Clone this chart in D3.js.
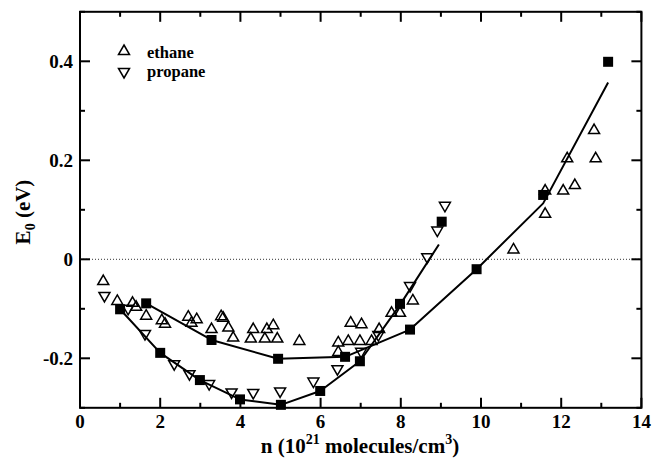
<!DOCTYPE html>
<html>
<head>
<meta charset="utf-8">
<script src="https://cdn.jsdelivr.net/npm/d3@7"></script>
<style>
  html, body { margin: 0; padding: 0; background: #fff; }
  svg { display: block; }
  text { font-family: "Liberation Serif", "Times New Roman", serif; font-weight: bold; fill: #000; }
</style>
</head>
<body>
<svg id="chart" width="652" height="461"></svg>
<script>
// Density n (10^21 molecules/cm^3) vs. E0 (eV)

// Individual ethane results (open up-triangles): [n, E0]
const ethanePoints = [
  [0.58, -0.042], [0.93, -0.082], [1.31, -0.086], [1.40, -0.094], [1.65, -0.112],
  [2.04, -0.121], [2.12, -0.128], [2.70, -0.114], [2.91, -0.119], [2.78, -0.126],
  [3.52, -0.113], [3.57, -0.116], [3.28, -0.139], [3.70, -0.136], [3.82, -0.156],
  [4.32, -0.139], [4.26, -0.158], [4.66, -0.139], [4.82, -0.131], [4.61, -0.158],
  [4.92, -0.158], [5.47, -0.163], [6.44, -0.166], [6.69, -0.163], [6.75, -0.126],
  [7.02, -0.129], [6.98, -0.163], [7.27, -0.163], [7.46, -0.139], [6.44, -0.185],
  [7.77, -0.106], [7.98, -0.106], [8.30, -0.081], [10.81, 0.022], [11.60, 0.094],
  [11.60, 0.141], [12.05, 0.141], [12.34, 0.152], [12.15, 0.206], [12.86, 0.206],
  [12.82, 0.263]
];

// Individual propane results (open down-triangles): [n, E0]
const propanePoints = [
  [0.61, -0.076], [1.20, -0.102], [1.62, -0.153], [2.35, -0.214], [2.73, -0.234],
  [3.22, -0.254], [3.78, -0.271], [4.32, -0.272], [4.99, -0.269], [5.82, -0.249],
  [6.42, -0.224], [7.01, -0.189], [7.44, -0.155], [8.23, -0.056], [8.66, 0.002],
  [8.91, 0.056], [9.10, 0.106]
];

// Averaged values (filled squares)
const ethaneAverages = [
  [1.65, -0.089], [3.28, -0.163], [4.94, -0.201], [6.61, -0.197],
  [8.23, -0.142], [9.89, -0.020], [11.55, 0.130], [13.17, 0.399]
];
const propaneAverages = [
  [1.00, -0.101], [2.00, -0.189], [2.99, -0.244], [3.99, -0.283], [5.01, -0.294],
  [5.99, -0.266], [6.98, -0.206], [7.98, -0.090], [9.02, 0.076]
];

// Fitted curves (solid lines)
const ethaneFit = [
  [1.65, -0.089], [3.28, -0.163], [4.94, -0.201], [6.61, -0.197],
  [8.23, -0.142], [9.89, -0.020], [11.55, 0.113], [13.17, 0.357]
];
const propaneFit = [
  [1.00, -0.101], [2.00, -0.189], [2.99, -0.244], [3.99, -0.283], [5.01, -0.294],
  [5.99, -0.266], [6.98, -0.206], [7.98, -0.092], [8.95, 0.030]
];

// Axis ticks
const xMajorTicks = [0, 2, 4, 6, 8, 10, 12, 14];
const xMinorTicks = [1, 3, 5, 7, 9, 11, 13];
const yMajorTicks = [-0.2, 0, 0.2, 0.4];
const yMinorTicks = [-0.3, -0.1, 0.1, 0.3, 0.5];
const yTickLabels = ["-0.2", "0", "0.2", "0.4"];

const legendItems = ["ethane", "propane"];

const svg = d3.select("#chart");
const W = 652, H = 461;
const margin = { left: 80, right: 10.6, top: 11.8, bottom: 53.2 };
const x = d3.scaleLinear().domain([0, 14]).range([margin.left, W - margin.right]);
const y = d3.scaleLinear().domain([-0.3, 0.5]).range([H - margin.bottom, margin.top]);

svg.append("rect").attr("width", W).attr("height", H).attr("fill", "#fff");

// zero reference line
svg.append("line")
  .attr("x1", x(0)).attr("x2", x(14))
  .attr("y1", y(0)).attr("y2", y(0))
  .attr("stroke", "#333").attr("stroke-width", 1)
  .attr("stroke-dasharray", "1,2");

// fitted curves
const line = d3.line().x(d => x(d[0])).y(d => y(d[1]));
[ethaneFit, propaneFit].forEach(fit => {
  svg.append("path").datum(fit)
    .attr("d", line)
    .attr("fill", "none").attr("stroke", "#000").attr("stroke-width", 2)
    .attr("stroke-linejoin", "round");
});

// triangle markers
const upTri = "M0,-5 L5.5,4.5 L-5.5,4.5 Z";
const downTri = "M0,5 L5.5,-4.5 L-5.5,-4.5 Z";

svg.append("g").selectAll("path").data(ethanePoints).join("path")
  .attr("d", upTri)
  .attr("transform", d => `translate(${x(d[0])},${y(d[1])})`)
  .attr("fill", "none").attr("stroke", "#000").attr("stroke-width", 1.5);

svg.append("g").selectAll("path").data(propanePoints).join("path")
  .attr("d", downTri)
  .attr("transform", d => `translate(${x(d[0])},${y(d[1])})`)
  .attr("fill", "none").attr("stroke", "#000").attr("stroke-width", 1.5);

// averaged squares
svg.append("g").selectAll("rect").data(ethaneAverages.concat(propaneAverages)).join("rect")
  .attr("x", d => x(d[0]) - 5).attr("y", d => y(d[1]) - 5)
  .attr("width", 10).attr("height", 10)
  .attr("fill", "#000");

// axes frame with inward ticks
const frame = svg.append("g");
frame.append("rect")
  .attr("x", x(0)).attr("y", y(0.5))
  .attr("width", x(14) - x(0)).attr("height", y(-0.3) - y(0.5))
  .attr("fill", "none").attr("stroke", "#000").attr("stroke-width", 2);

const tickG = frame.append("g").attr("stroke", "#000").attr("stroke-width", 2);
function xTick(v, len) {
  tickG.append("line").attr("x1", x(v)).attr("x2", x(v)).attr("y1", y(-0.3)).attr("y2", y(-0.3) - len);
  tickG.append("line").attr("x1", x(v)).attr("x2", x(v)).attr("y1", y(0.5)).attr("y2", y(0.5) + len);
}
function yTick(v, len) {
  tickG.append("line").attr("x1", x(0)).attr("x2", x(0) + len).attr("y1", y(v)).attr("y2", y(v));
  tickG.append("line").attr("x1", x(14)).attr("x2", x(14) - len).attr("y1", y(v)).attr("y2", y(v));
}
xMajorTicks.forEach(v => xTick(v, 10));
xMinorTicks.forEach(v => xTick(v, 5));
yMajorTicks.forEach(v => yTick(v, 10));
yMinorTicks.forEach(v => yTick(v, 5));

// tick labels
svg.append("g").selectAll("text").data(xMajorTicks).join("text")
  .attr("x", d => x(d)).attr("y", 428)
  .attr("text-anchor", "middle").attr("font-size", 19)
  .text(d => d);

svg.append("g").selectAll("text").data(yMajorTicks).join("text")
  .attr("x", x(0) - 7).attr("y", d => y(d)).attr("dy", "0.35em")
  .attr("text-anchor", "end").attr("font-size", 19)
  .text((d, i) => yTickLabels[i]);

// axis titles
const xt = svg.append("text")
  .attr("x", 360).attr("y", 453)
  .attr("text-anchor", "middle").attr("font-size", 21);
xt.append("tspan").text("n (10");
xt.append("tspan").attr("font-size", 14).attr("dy", -9).text("21");
xt.append("tspan").attr("dy", 9).text(" molecules/cm");
xt.append("tspan").attr("font-size", 14).attr("dy", -9).text("3");
xt.append("tspan").attr("dy", 9).text(")");

const yt = svg.append("text")
  .attr("transform", "translate(30,212) rotate(-90)")
  .attr("text-anchor", "middle").attr("font-size", 21);
yt.append("tspan").text("E");
yt.append("tspan").attr("font-size", 14).attr("dy", 5).text("0");
yt.append("tspan").attr("dy", -5).text(" (eV)");

// legend
const legend = svg.append("g");
legendItems.forEach((name, i) => {
  const cy = 50 + i * 23;
  legend.append("path")
    .attr("d", i === 0 ? upTri : downTri)
    .attr("transform", `translate(124,${cy})`)
    .attr("fill", "none").attr("stroke", "#000").attr("stroke-width", 1.5);
  legend.append("text")
    .attr("x", 147).attr("y", 57.5 + i * 19)
    .attr("font-size", 16.5)
    .text(name);
});
</script>
</body>
</html>
